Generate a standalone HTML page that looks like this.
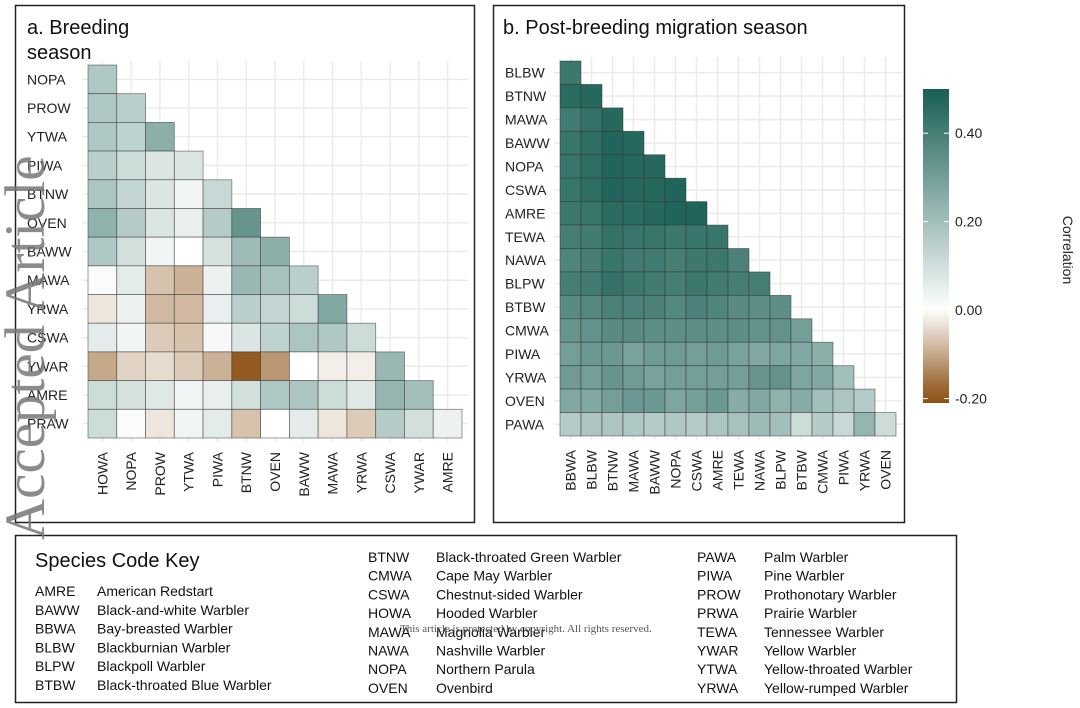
<!DOCTYPE html>
<html><head><meta charset="utf-8"><style>
html,body{margin:0;padding:0;background:#fff;}
svg{display:block;font-family:"Liberation Sans",sans-serif;}
</style></head><body>
<svg id="fig" width="1080" height="708" viewBox="0 0 1080 708">
<rect x="15.5" y="5.5" width="459" height="517" fill="none" stroke="#222" stroke-width="1.5"/>
<rect x="493.5" y="5.5" width="411" height="517" fill="none" stroke="#222" stroke-width="1.5"/>
<text x="27" y="34" font-size="20" fill="#111">a. Breeding</text>
<text x="27" y="59" font-size="20" fill="#111">season</text>
<text x="503" y="34" font-size="20" fill="#111">b. Post-breeding migration season</text>
<g id="pa"></g>
<g id="pb"></g>
<g id="legend"></g>
<rect x="15.5" y="535.5" width="941" height="167" fill="none" stroke="#222" stroke-width="1.5"/>
<text x="35" y="567" font-size="20" fill="#111">Species Code Key</text>
<g id="key" font-size="14" fill="#111"></g>
<text x="400" y="632" font-size="11" fill="#555" font-family="Liberation Serif,serif">This article is protected by copyright. All rights reserved.</text>
<text transform="translate(44,540) rotate(-90)" font-size="57" fill="#777" fill-opacity="0.85" font-family="Liberation Serif,serif">Accepted Article</text>
</svg>
<script>
const NS="http://www.w3.org/2000/svg";
const aRows=["NOPA","PROW","YTWA","PIWA","BTNW","OVEN","BAWW","MAWA","YRWA","CSWA","YWAR","AMRE","PRAW"];
const aCols=["HOWA","NOPA","PROW","YTWA","PIWA","BTNW","OVEN","BAWW","MAWA","YRWA","CSWA","YWAR","AMRE"];
const aVals=[
[0.17],
[0.17,0.15],
[0.17,0.14,0.25],
[0.15,0.11,0.08,0.08],
[0.18,0.13,0.08,0.03,0.12],
[0.24,0.16,0.08,0.05,0.16,0.33],
[0.17,0.10,0.03,0.0,0.09,0.21,0.25],
[0.01,0.06,-0.07,-0.09,0.04,0.22,0.19,0.15],
[-0.03,0.04,-0.08,-0.08,0.05,0.15,0.13,0.11,0.27],
[0.06,0.03,-0.06,-0.07,0.02,0.08,0.14,0.18,0.17,0.11],
[-0.10,-0.05,-0.04,-0.06,-0.09,-0.19,-0.12,0.0,-0.02,-0.02,0.22],
[0.11,0.09,0.07,0.03,0.05,0.10,0.17,0.18,0.11,0.07,0.23,0.20],
[0.11,0.01,-0.03,0.03,0.06,-0.07,0.0,0.06,-0.03,-0.06,0.16,0.10,0.04]];
const bRows=["BLBW","BTNW","MAWA","BAWW","NOPA","CSWA","AMRE","TEWA","NAWA","BLPW","BTBW","CMWA","PIWA","YRWA","OVEN","PAWA"];
const bCols=["BBWA","BLBW","BTNW","MAWA","BAWW","NOPA","CSWA","AMRE","TEWA","NAWA","BLPW","BTBW","CMWA","PIWA","YRWA","OVEN"];
const bVals=[
[0.42],
[0.46,0.47],
[0.41,0.44,0.47],
[0.43,0.45,0.48,0.47],
[0.43,0.45,0.48,0.47,0.47],
[0.43,0.45,0.48,0.47,0.47,0.48],
[0.42,0.43,0.46,0.46,0.47,0.48,0.48],
[0.40,0.41,0.44,0.43,0.43,0.42,0.43,0.43],
[0.38,0.40,0.43,0.41,0.41,0.40,0.42,0.42,0.39],
[0.40,0.41,0.44,0.42,0.41,0.40,0.42,0.41,0.40,0.40],
[0.36,0.37,0.39,0.39,0.39,0.37,0.39,0.38,0.36,0.35,0.35],
[0.33,0.34,0.36,0.36,0.35,0.35,0.35,0.35,0.35,0.34,0.34,0.30],
[0.30,0.32,0.32,0.29,0.31,0.31,0.30,0.31,0.29,0.27,0.28,0.27,0.25],
[0.31,0.30,0.33,0.31,0.29,0.30,0.30,0.30,0.30,0.33,0.34,0.28,0.27,0.20],
[0.27,0.27,0.30,0.32,0.32,0.28,0.30,0.32,0.26,0.27,0.24,0.26,0.20,0.18,0.16],
[0.16,0.18,0.18,0.17,0.16,0.17,0.16,0.18,0.19,0.21,0.20,0.11,0.16,0.12,0.23,0.11]];
const legendTicks=[0.4,0.2,0.0,-0.2];
const legendTickLabels=["0.40","0.20","0.00","-0.20"];
const keyCodes1=["AMRE","BAWW","BBWA","BLBW","BLPW","BTBW"];
const keyNames1=["American Redstart","Black-and-white Warbler","Bay-breasted Warbler","Blackburnian Warbler","Blackpoll Warbler","Black-throated Blue Warbler"];
const keyCodes2=["BTNW","CMWA","CSWA","HOWA","MAWA","NAWA","NOPA","OVEN"];
const keyNames2=["Black-throated Green Warbler","Cape May Warbler","Chestnut-sided Warbler","Hooded Warbler","Magnolia Warbler","Nashville Warbler","Northern Parula","Ovenbird"];
const keyCodes3=["PAWA","PIWA","PROW","PRWA","TEWA","YWAR","YTWA","YRWA"];
const keyNames3=["Palm Warbler","Pine Warbler","Prothonotary Warbler","Prairie Warbler","Tennessee Warbler","Yellow Warbler","Yellow-throated Warbler","Yellow-rumped Warbler"];

function color(v){
  let hi=[24,94,84], lo=[140,81,20], t, c;
  if(v>=0){t=Math.min(v/0.5,1);c=hi;} else {t=Math.min(-v/0.2,1);c=lo;}
  const r=Math.round(255+(c[0]-255)*t),g=Math.round(255+(c[1]-255)*t),b=Math.round(255+(c[2]-255)*t);
  return `rgb(${r},${g},${b})`;
}
function mk(tag,attrs,parent){const e=document.createElementNS(NS,tag);for(const k in attrs)e.setAttribute(k,attrs[k]);parent.appendChild(e);return e;}

function drawPanel(g,rows,cols,vals,x0,y0,x1,y1,labelX,prefix){
  const cw=(x1-x0)/cols.length, rh=(y1-y0)/rows.length;
  const xs=i=>x0+i*cw, ys=j=>y0+j*rh;
  for(let i=0;i<cols.length;i++){
    const l=mk('line',{x1:xs(i)+cw/2,x2:xs(i)+cw/2,y1:y0-4,y2:y1+4,stroke:'#ebebeb','stroke-width':1.5},g);
    
    
  }
  for(let j=0;j<rows.length;j++){
    const l=mk('line',{x1:x0-6,x2:x1+6,y1:ys(j)+rh/2,y2:ys(j)+rh/2,stroke:'#ebebeb','stroke-width':1.5},g);
    
    
  }
  vals.forEach((row,j)=>row.forEach((v,i)=>{
    const r=mk('rect',{x:xs(i),y:ys(j),width:cw,height:rh,fill:color(v),stroke:'#333','stroke-opacity':0.6,'stroke-width':0.8},g);
    
    
  }));
  rows.forEach((n,j)=>{
    const t=mk('text',{x:labelX,y:ys(j)+rh/2+5,'font-size':14,fill:'#222'},g);t.textContent=n;
    
    
  });
  cols.forEach((n,i)=>{
    const t=mk('text',{transform:`translate(${xs(i)+cw/2+5},${y1+14}) rotate(-90)`,'text-anchor':'end','font-size':14,fill:'#222'},g);t.textContent=n;
    
    
  });
}
drawPanel(document.getElementById('pa'),aRows,aCols,aVals,88,65,462,438,27,'panel-a');
drawPanel(document.getElementById('pb'),bRows,bCols,bVals,560,61,896,436,505,'panel-b');

const lg=document.getElementById('legend');
const defs=mk('defs',{},lg);
const grad=mk('linearGradient',{id:'cg',x1:0,y1:0,x2:0,y2:1},defs);
const vmax=0.5,vmin=-0.21,ly0=89,ly1=403;
const ly=v=>ly0+(vmax-v)/(vmax-vmin)*(ly1-ly0);
for(let k=0;k<=20;k++){const v=vmax-(vmax-vmin)*k/20;mk('stop',{offset:k/20,'stop-color':color(v)},grad);}
const bar=mk('rect',{x:923,y:ly0,width:26,height:ly1-ly0,fill:'url(#cg)'},lg);


legendTicks.forEach((v,k)=>{
  mk('line',{x1:923,x2:928,y1:ly(v),y2:ly(v),stroke:'#fff'},lg);
  mk('line',{x1:944,x2:949,y1:ly(v),y2:ly(v),stroke:'#fff'},lg);
  const t=mk('text',{x:955,y:ly(v)+5,'font-size':14,fill:'#222'},lg);t.textContent=legendTickLabels[k];
  
  
});
const lt=mk('text',{transform:'translate(1063,250) rotate(90)','text-anchor':'middle','font-size':14,fill:'#222'},lg);lt.textContent='Correlation';



const kg=document.getElementById('key');
function keyCol(codes,names,cx,nx,y0,dy){
  codes.forEach((c,i)=>{
    const a=mk('text',{x:cx,y:y0+i*dy},kg);a.textContent=c;
    
    
    const b=mk('text',{x:nx,y:y0+i*dy},kg);b.textContent=names[i];
    
    
  });
}
keyCol(keyCodes1,keyNames1,35,97,596,18.8);
keyCol(keyCodes2,keyNames2,368,436,562,18.7);
keyCol(keyCodes3,keyNames3,697,764,562,18.7);
</script>
</body></html>
